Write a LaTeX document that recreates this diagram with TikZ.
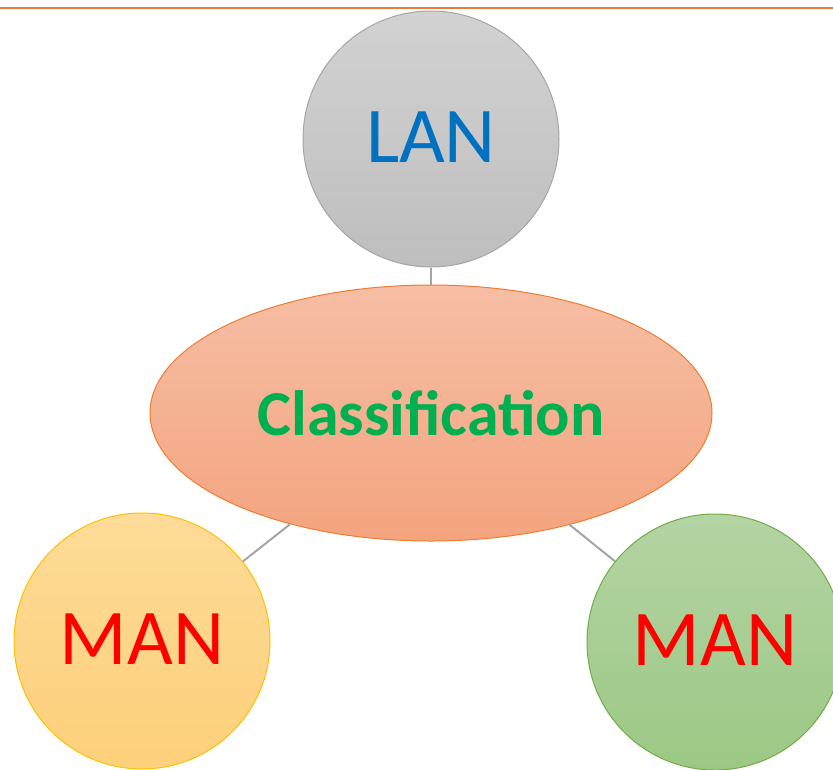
\documentclass[tikz,border=0pt]{standalone}
\usepackage{fontspec}
\setmainfont{Carlito}
\usetikzlibrary{shapes}
\definecolor{lanblue}{HTML}{0070C0}
\definecolor{manred}{HTML}{FF0000}
\definecolor{clsgreen}{HTML}{00B050}
\definecolor{linkgray}{HTML}{A5A5A5}
\definecolor{topline}{HTML}{ED7D31}

\begin{document}
\begin{tikzpicture}[x=1pt,y=-1pt,
every node/.style={inner sep=0pt},
ball/.style={circle,minimum size=256pt,line width=1pt,
  font=\fontsize{79}{86}\selectfont,text=manred},
link/.style={draw=linkgray,line width=2pt}]
\useasboundingbox (0,0) rectangle (833,769);
\clip (0,0) rectangle (833,769);
\draw[topline,line width=2pt] (0,8) -- (833,8);
\node[ball,draw={rgb,255:red,166;green,166;blue,166},
  top color={rgb,255:red,210;green,210;blue,210},
  bottom color={rgb,255:red,190;green,190;blue,190},
  text=lanblue] (lan) at (431,139) {\raisebox{3pt}{LAN}};
\node[ellipse,minimum width=562pt,minimum height=256pt,line width=1pt,
  draw=topline,
  top color={rgb,255:red,246;green,190;blue,164},
  bottom color={rgb,255:red,244;green,164;blue,127},
  font=\fontsize{64}{70}\selectfont\bfseries,text=clsgreen]
  (cls) at (431,413) {Classification};
\node[ball,draw={rgb,255:red,255;green,192;blue,0},
  top color={rgb,255:red,254;green,219;blue,152},
  bottom color={rgb,255:red,253;green,208;blue,122}]
  (manl) at (142,641) {\raisebox{4pt}{MAN}};
\node[ball,draw={rgb,255:red,112;green,173;blue,71},
  top color={rgb,255:red,180;green,212;blue,164},
  bottom color={rgb,255:red,156;green,200;blue,132}]
  (manr) at (715,642) {\raisebox{4pt}{MAN}};
\draw[link] (lan) -- (cls);
\draw[link] (cls) -- (manl);
\draw[link] (cls) -- (manr);
\end{tikzpicture}
\end{document}
